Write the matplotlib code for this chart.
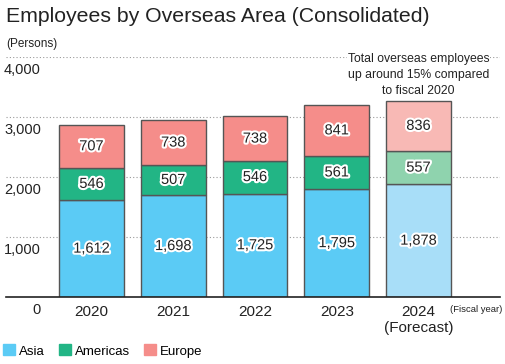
import matplotlib.pyplot as plt
import matplotlib.patheffects as pe
from matplotlib.patches import Patch
import numpy as np

plt.rcParams['font.family'] = ['Liberation Sans', 'DejaVu Sans']

years = ["2020", "2021", "2022", "2023", "2024\n(Forecast)"]
asia = [1612, 1698, 1725, 1795, 1878]
americas = [546, 507, 546, 561, 557]
europe = [707, 738, 738, 841, 836]
yticks = [1000, 2000, 3000, 4000]

c_asia = ["#5bcbf5"] * 4 + ["#a8def8"]
c_amer = ["#22b585"] * 4 + ["#8fd3ae"]
c_eur = ["#f58d8a"] * 4 + ["#f8b9b5"]

fig = plt.figure(figsize=(5.06, 3.64), dpi=100)
ax = fig.add_axes([6 / 506, 67 / 364, 494 / 506, 240 / 364])

x = np.arange(len(years))
w = 0.795
ax.bar(x, asia, w, color=c_asia, edgecolor="#555555", lw=1, zorder=2)
ax.bar(x, americas, w, bottom=asia, color=c_amer, edgecolor="#555555", lw=1, zorder=2)
bot2 = np.array(asia) + np.array(americas)
ax.bar(x, europe, w, bottom=bot2, color=c_eur, edgecolor="#555555", lw=1, zorder=2)

stroke = [pe.withStroke(linewidth=3, foreground="white")]
for i in range(len(years)):
    for b, v in [(0, asia[i]), (asia[i], americas[i]), (bot2[i], europe[i])]:
        ax.text(x[i], b + v / 2, f"{v:,}", ha="center", va="center", fontsize=10.5,
                color="#222222", path_effects=stroke, zorder=3)

ax.set_xlim(-1.046, 4.997)
ax.set_ylim(0, 4000)
for s in ["top", "right", "left"]:
    ax.spines[s].set_visible(False)
ax.spines["bottom"].set_linewidth(1.2)
ax.spines["bottom"].set_color("#222222")
ax.set_yticks([])
ax.set_xticks([])
for t in yticks:
    ax.axhline(t, color="#999999", lw=0.8, ls=(0, (1, 2)), zorder=1)
    ax.annotate(f"{t:,}", (41 / 506, t), xycoords=("figure fraction", "data"),
                xytext=(0, -9.5), textcoords="offset points", ha="right", va="center",
                fontsize=10.5, color="#222222")
fig.text(41 / 506, 1 - 310 / 364, "0", ha="right", va="center", fontsize=10.5, color="#222222")

for i, lab in enumerate(years):
    ax.annotate(lab, (x[i], 0), xytext=(0, -6), textcoords="offset points",
                ha="center", va="top", fontsize=11, color="#222222", linespacing=1.15)
fig.text(502 / 506, 1 - 310 / 364, "(Fiscal year)", ha="right", va="center",
         fontsize=6.8, color="#222222")

ax.text(x[4], 3330, "Total overseas employees\nup around 15% compared\nto fiscal 2020",
        ha="center", va="bottom", fontsize=8.8, color="#222222", linespacing=1.45,
        bbox=dict(facecolor="white", edgecolor="none", pad=0.5), zorder=4)

fig.text(6 / 506, 1 - 17 / 364, "Employees by Overseas Area (Consolidated)", ha="left",
         va="center", fontsize=15.3, color="#222222")
fig.text(6 / 506, 1 - 44 / 364, "(Persons)", ha="left", va="center", fontsize=8.5,
         color="#222222")

handles = [Patch(color="#5bcbf5", label="Asia"), Patch(color="#22b585", label="Americas"),
           Patch(color="#f58d8a", label="Europe")]
fig.legend(handles=handles, loc="center left", bbox_to_anchor=(0, 1 - 351 / 364), ncol=3,
           frameon=False, fontsize=9.5, handlelength=0.9, handleheight=0.9,
           handletextpad=0.3, columnspacing=1.1, borderaxespad=0, borderpad=0.2)

fig.savefig("out.png", dpi=100)
